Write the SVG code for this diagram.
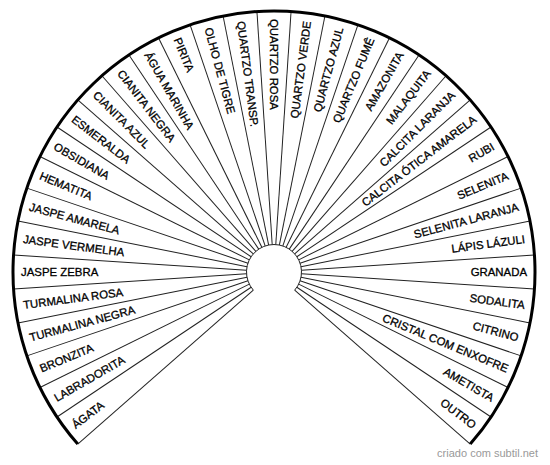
<svg xmlns="http://www.w3.org/2000/svg" width="550" height="465" viewBox="0 0 550 465">
<style>
.lbl{font-family:"Liberation Sans",Arial,sans-serif;font-size:11.4px;fill:#000;stroke:#000;stroke-width:0.3}
.l text{text-anchor:start}
.r text{text-anchor:end}
.ray{stroke:#222;stroke-width:1}
</style>
<rect width="550" height="465" fill="#fff"/>
<g id="connectors" transform="translate(274,272)">
<g class="ray">
<line x1="0" y1="-27.5" x2="0" y2="-261" transform="rotate(-131.25)"/>
<line x1="0" y1="-27.5" x2="0" y2="-261" transform="rotate(-123.75)"/>
<line x1="0" y1="-27.5" x2="0" y2="-261" transform="rotate(-116.25)"/>
<line x1="0" y1="-27.5" x2="0" y2="-261" transform="rotate(-108.75)"/>
<line x1="0" y1="-27.5" x2="0" y2="-261" transform="rotate(-101.25)"/>
<line x1="0" y1="-27.5" x2="0" y2="-261" transform="rotate(-93.75)"/>
<line x1="0" y1="-27.5" x2="0" y2="-261" transform="rotate(-86.25)"/>
<line x1="0" y1="-27.5" x2="0" y2="-261" transform="rotate(-78.75)"/>
<line x1="0" y1="-27.5" x2="0" y2="-261" transform="rotate(-71.25)"/>
<line x1="0" y1="-27.5" x2="0" y2="-261" transform="rotate(-63.75)"/>
<line x1="0" y1="-27.5" x2="0" y2="-261" transform="rotate(-56.25)"/>
<line x1="0" y1="-27.5" x2="0" y2="-261" transform="rotate(-48.75)"/>
<line x1="0" y1="-27.5" x2="0" y2="-261" transform="rotate(-41.25)"/>
<line x1="0" y1="-27.5" x2="0" y2="-261" transform="rotate(-33.75)"/>
<line x1="0" y1="-27.5" x2="0" y2="-261" transform="rotate(-26.25)"/>
<line x1="0" y1="-27.5" x2="0" y2="-261" transform="rotate(-18.75)"/>
<line x1="0" y1="-27.5" x2="0" y2="-261" transform="rotate(-11.25)"/>
<line x1="0" y1="-27.5" x2="0" y2="-261" transform="rotate(-3.75)"/>
<line x1="0" y1="-27.5" x2="0" y2="-261" transform="rotate(3.75)"/>
<line x1="0" y1="-27.5" x2="0" y2="-261" transform="rotate(11.25)"/>
<line x1="0" y1="-27.5" x2="0" y2="-261" transform="rotate(18.75)"/>
<line x1="0" y1="-27.5" x2="0" y2="-261" transform="rotate(26.25)"/>
<line x1="0" y1="-27.5" x2="0" y2="-261" transform="rotate(33.75)"/>
<line x1="0" y1="-27.5" x2="0" y2="-261" transform="rotate(41.25)"/>
<line x1="0" y1="-27.5" x2="0" y2="-261" transform="rotate(48.75)"/>
<line x1="0" y1="-27.5" x2="0" y2="-261" transform="rotate(56.25)"/>
<line x1="0" y1="-27.5" x2="0" y2="-261" transform="rotate(63.75)"/>
<line x1="0" y1="-27.5" x2="0" y2="-261" transform="rotate(71.25)"/>
<line x1="0" y1="-27.5" x2="0" y2="-261" transform="rotate(78.75)"/>
<line x1="0" y1="-27.5" x2="0" y2="-261" transform="rotate(86.25)"/>
<line x1="0" y1="-27.5" x2="0" y2="-261" transform="rotate(93.75)"/>
<line x1="0" y1="-27.5" x2="0" y2="-261" transform="rotate(101.25)"/>
<line x1="0" y1="-27.5" x2="0" y2="-261" transform="rotate(108.75)"/>
<line x1="0" y1="-27.5" x2="0" y2="-261" transform="rotate(116.25)"/>
<line x1="0" y1="-27.5" x2="0" y2="-261" transform="rotate(123.75)"/>
<line x1="0" y1="-27.5" x2="0" y2="-261" transform="rotate(131.25)"/>
</g>
<path d="M -20.68 18.13 A 27.5 27.5 0 1 1 20.68 18.13" fill="none" stroke="#222" stroke-width="1"/>
<path d="M -196.23 172.09 A 261 261 0 1 1 196.23 172.09" fill="none" stroke="#000" stroke-width="3"/>
</g>
<g class="lbl" transform="translate(274,272)">
<g class="l">
<g id="n1"><text transform="rotate(-127.5) translate(0,-253) rotate(90)" dy=".36em">ÁGATA</text></g>
<g id="n2"><text transform="rotate(-120) translate(0,-253) rotate(90)" dy=".36em">LABRADORITA</text></g>
<g id="n3"><text transform="rotate(-112.5) translate(0,-253) rotate(90)" dy=".36em">BRONZITA</text></g>
<g id="n4"><text transform="rotate(-105) translate(0,-253) rotate(90)" dy=".36em">TURMALINA NEGRA</text></g>
<g id="n5"><text transform="rotate(-97.5) translate(0,-253) rotate(90)" dy=".36em">TURMALINA ROSA</text></g>
<g id="n6"><text transform="rotate(-90) translate(0,-253) rotate(90)" dy=".36em">JASPE ZEBRA</text></g>
<g id="n7"><text transform="rotate(-82.5) translate(0,-253) rotate(90)" dy=".36em">JASPE VERMELHA</text></g>
<g id="n8"><text transform="rotate(-75) translate(0,-253) rotate(90)" dy=".36em">JASPE AMARELA</text></g>
<g id="n9"><text transform="rotate(-67.5) translate(0,-253) rotate(90)" dy=".36em">HEMATITA</text></g>
<g id="n10"><text transform="rotate(-60) translate(0,-253) rotate(90)" dy=".36em">OBSIDIANA</text></g>
<g id="n11"><text transform="rotate(-52.5) translate(0,-253) rotate(90)" dy=".36em">ESMERALDA</text></g>
<g id="n12"><text transform="rotate(-45) translate(0,-253) rotate(90)" dy=".36em">CIANITA AZUL</text></g>
<g id="n13"><text transform="rotate(-37.5) translate(0,-253) rotate(90)" dy=".36em">CIANITA NEGRA</text></g>
<g id="n14"><text transform="rotate(-30) translate(0,-253) rotate(90)" dy=".36em">ÁGUA MARINHA</text></g>
<g id="n15"><text transform="rotate(-22.5) translate(0,-253) rotate(90)" dy=".36em">PIRITA</text></g>
<g id="n16"><text transform="rotate(-15) translate(0,-253) rotate(90)" dy=".36em">OLHO DE TIGRE</text></g>
<g id="n17"><text transform="rotate(-7.5) translate(0,-253) rotate(90)" dy=".36em">QUARTZO TRANSP.</text></g>
<g id="n18"><text transform="rotate(0) translate(0,-253) rotate(90)" dy=".36em">QUARTZO ROSA</text></g>
</g>
<g class="r">
<g id="n19"><text transform="rotate(7.5) translate(0,-253) rotate(-90)" dy=".36em">QUARTZO VERDE</text></g>
<g id="n20"><text transform="rotate(15) translate(0,-253) rotate(-90)" dy=".36em">QUARTZO AZUL</text></g>
<g id="n21"><text transform="rotate(22.5) translate(0,-253) rotate(-90)" dy=".36em">QUARTZO FUMÊ</text></g>
<g id="n22"><text transform="rotate(30) translate(0,-253) rotate(-90)" dy=".36em">AMAZONITA</text></g>
<g id="n23"><text transform="rotate(37.5) translate(0,-253) rotate(-90)" dy=".36em">MALAQUITA</text></g>
<g id="n24"><text transform="rotate(45) translate(0,-253) rotate(-90)" dy=".36em">CALCITA LARANJA</text></g>
<g id="n25"><text transform="rotate(52.5) translate(0,-253) rotate(-90)" dy=".36em">CALCITA ÓTICA AMARELA</text></g>
<g id="n26"><text transform="rotate(60) translate(0,-253) rotate(-90)" dy=".36em">RUBI</text></g>
<g id="n27"><text transform="rotate(67.5) translate(0,-253) rotate(-90)" dy=".36em">SELENITA</text></g>
<g id="n28"><text transform="rotate(75) translate(0,-253) rotate(-90)" dy=".36em">SELENITA LARANJA</text></g>
<g id="n29"><text transform="rotate(82.5) translate(0,-253) rotate(-90)" dy=".36em">LÁPIS LÁZULI</text></g>
<g id="n30"><text transform="rotate(90) translate(0,-253) rotate(-90)" dy=".36em">GRANADA</text></g>
<g id="n31"><text transform="rotate(97.5) translate(0,-253) rotate(-90)" dy=".36em">SODALITA</text></g>
<g id="n32"><text transform="rotate(105) translate(0,-253) rotate(-90)" dy=".36em">CITRINO</text></g>
<g id="n33"><text transform="rotate(112.5) translate(0,-253) rotate(-90)" dy=".36em">CRISTAL COM ENXOFRE</text></g>
<g id="n34"><text transform="rotate(120) translate(0,-253) rotate(-90)" dy=".36em">AMETISTA</text></g>
<g id="n35"><text transform="rotate(127.5) translate(0,-253) rotate(-90)" dy=".36em">OUTRO</text></g>
</g>
</g>
<text x="538" y="457" text-anchor="end" font-family="'Liberation Sans',Arial,sans-serif" font-size="11" fill="#999">criado com subtil.net</text>
</svg>
